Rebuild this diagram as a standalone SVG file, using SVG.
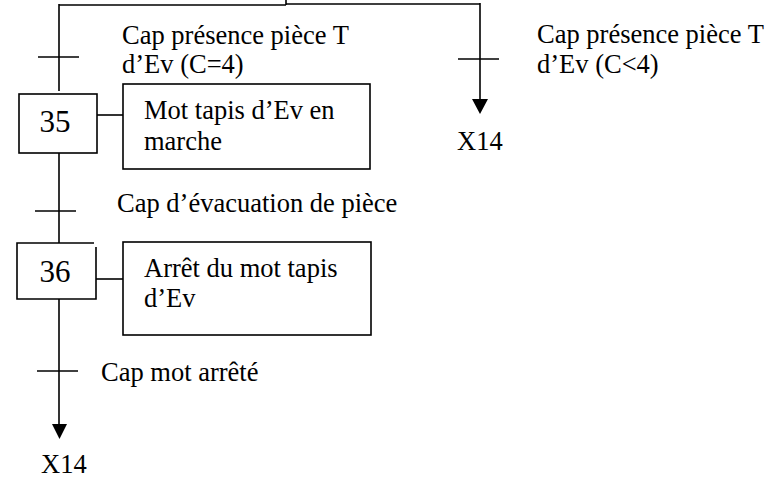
<svg xmlns="http://www.w3.org/2000/svg" width="776" height="478" viewBox="0 0 776 478">
<style>
.ln{stroke:#000;stroke-width:1.6;fill:none}
.bx{stroke:#000;stroke-width:1.6;fill:#fff}
.t{font-family:"Liberation Serif","Times New Roman",serif;font-size:26.5px;fill:#000}
.n{font-family:"Liberation Serif","Times New Roman",serif;font-size:31px;fill:#000;text-anchor:middle}
.ah{fill:#000;stroke:none}
</style>
<rect width="776" height="478" fill="#fff"/>
<g id="connectors">
  <path class="ln" d="M286,0 V5 M59,5 H286 M286,4 H480 M59,4 V91"/>
  <path class="ln" d="M38,57 H79"/>
  <path class="ln" d="M480,3 V100"/>
  <path class="ln" d="M458,59 H499"/>
  <polygon class="ah" points="472,99 488,99 480,114"/>
  <path class="ln" d="M97,115 H123"/>
  <path class="ln" d="M59,153 V243"/>
  <path class="ln" d="M35,211 H76"/>
  <path class="ln" d="M96,279 H123"/>
  <path class="ln" d="M59,299 V425"/>
  <path class="ln" d="M37,371 H78"/>
  <polygon class="ah" points="52,424 67,424 59.5,439"/>
</g>
<g id="labels">
  <text class="t" x="122" y="44">Cap présence pièce T</text>
  <text class="t" x="122" y="73">d’Ev (C=4)</text>
  <text class="t" x="537" y="43">Cap présence pièce T</text>
  <text class="t" x="537" y="73">d’Ev (C&lt;4)</text>
  <text class="t" x="457" y="150">X14</text>
  <text class="t" x="117" y="212">Cap d’évacuation de pièce</text>
  <text class="t" x="101" y="381">Cap mot arrêté</text>
  <text class="t" x="41" y="473">X14</text>
</g>
<g id="step35">
  <rect class="bx" x="19" y="94" width="78" height="59"/>
  <text class="n" x="55" y="132">35</text>
</g>
<g id="action35">
  <rect class="bx" x="123" y="84" width="247" height="85"/>
  <text class="t" x="144" y="119">Mot tapis d’Ev en</text>
  <text class="t" x="144" y="150">marche</text>
</g>
<g id="step36">
  <rect x="17" y="243" width="79" height="56" fill="#fff"/>
  <path class="ln" d="M94,243 H17 V299 H96 V247"/>
  <text class="n" x="55" y="282">36</text>
</g>
<g id="action36">
  <rect class="bx" x="123" y="242" width="248" height="93"/>
  <text class="t" x="144" y="277">Arrêt du mot tapis</text>
  <text class="t" x="144" y="307">d’Ev</text>
</g>
</svg>
